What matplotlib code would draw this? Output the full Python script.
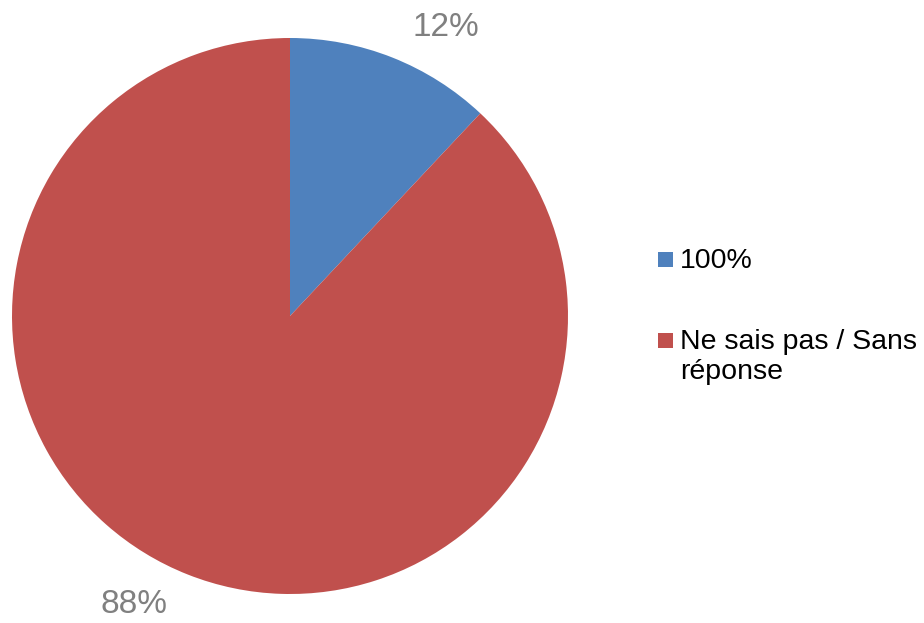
import matplotlib.pyplot as plt
from matplotlib.patches import Rectangle
import numpy as np

plt.rcParams['font.family'] = ['Liberation Sans', 'DejaVu Sans']

labels = ['100%', 'Ne sais pas / Sans\nréponse']
shares = [12, 88]
colors = ['#4F81BD', '#C0504D']

W, H = 924, 623
fig = plt.figure(figsize=(W/100, H/100), dpi=100)
# pie axes: centre at (290, 316) px, radius 278 px
ax = fig.add_axes([12/W, 29/H, 556/W, 556/H])
wedges, _ = ax.pie(shares, colors=colors, startangle=90, counterclock=False,
                   radius=1.0, wedgeprops=dict(linewidth=0))
ax.set_xlim(-1, 1)
ax.set_ylim(-1, 1)
ax.set_aspect('equal')

# percentage labels outside each slice
for w, v in zip(wedges, shares):
    mid = np.deg2rad((w.theta1 + w.theta2) / 2 - 6.7)
    ax.text(1.18*np.cos(mid), 1.18*np.sin(mid), f'{v}%', fontsize=24,
            color='#808080', ha='center', va='center', clip_on=False)

# legend on the right, square swatch next to the first line of each label
baselines = [268, 349]
for lab, col, yb in zip(labels, colors, baselines):
    fig.add_artist(Rectangle((658/W, 1 - (yb - 1)/H), 15/W, 15/H,
                             transform=fig.transFigure, color=col, lw=0))
    for j, line in enumerate(lab.split('\n')):
        fig.text(680/W, 1 - (yb + 30*j)/H, line, fontsize=20.5,
                 va='baseline', ha='left', color='black')

fig.savefig('out.png', dpi=100)
